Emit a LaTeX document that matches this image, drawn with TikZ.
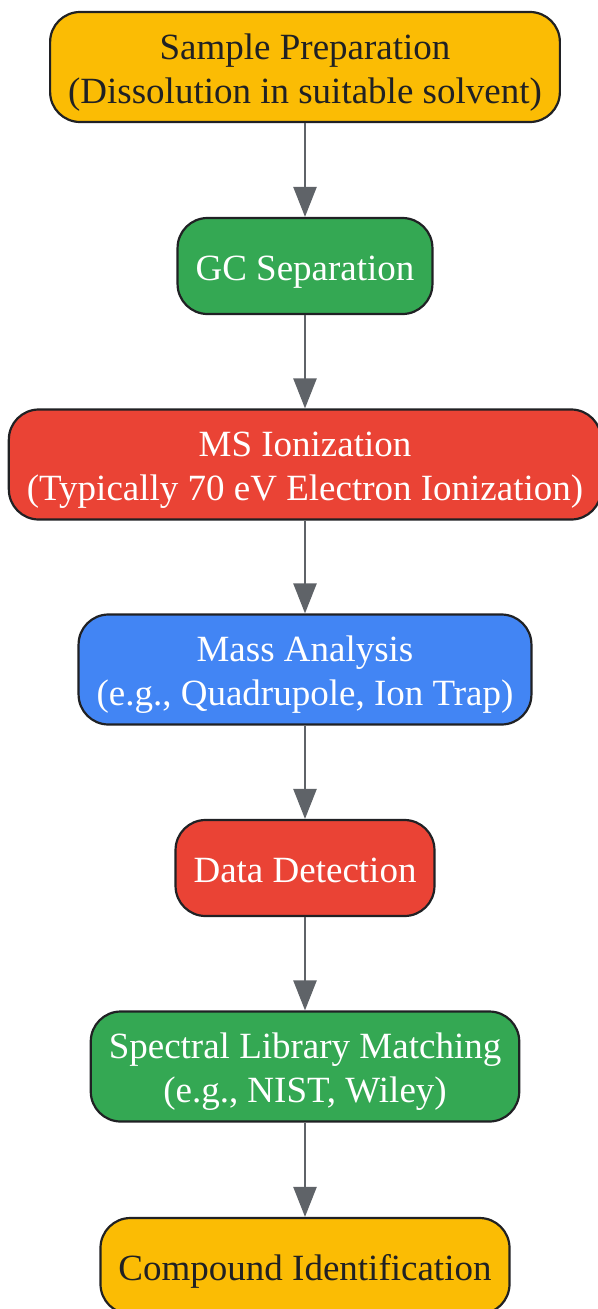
\documentclass[tikz,border=0pt]{standalone}
\usepackage{fontspec}
\setmainfont{Liberation Serif}
\usetikzlibrary{arrows.meta}
\definecolor{gyellow}{HTML}{FBBC04}
\definecolor{ggreen}{HTML}{34A853}
\definecolor{gred}{HTML}{EA4335}
\definecolor{gblue}{HTML}{4285F4}
\definecolor{gdark}{HTML}{202124}
\definecolor{garrow}{HTML}{5F6368}
\tikzset{%
    stage/.style={draw=gdark,line width=2.2pt,rounded corners=30pt,align=center,
        minimum height=96pt,inner xsep=18pt,inner ysep=9pt,
        font=\fontsize{37pt}{44pt}\selectfont,
        text height=38pt,text depth=10pt},
    twoline/.style={text height=82pt},
    light/.style={stage,text=white},
    flow/.style={-{Triangle[length=30pt,width=23pt]},draw=garrow,line width=2.5pt},
}

\begin{document}
\begin{tikzpicture}[x=1pt,y=-1pt]
            \useasboundingbox (0,0) rectangle (597,1309);

            %stopnje
            \node[stage,twoline,fill=gyellow,text=gdark] (prep) at (305,67) {Sample Preparation\\(Dissolution in suitable solvent)};
            \node[light,fill=ggreen] (gc) at (305,266) {GC Separation};
            \node[light,twoline,fill=gred] (ion) at (305,464.5) {MS Ionization\\(Typically 70 eV Electron Ionization)};
            \node[light,twoline,fill=gblue] (mass) at (305,669.5) {Mass Analysis\\(e.g., Quadrupole, Ion Trap)};
            \node[light,fill=gred] (det) at (305,868) {Data Detection};
            \node[light,twoline,fill=ggreen] (lib) at (305,1066.5) {Spectral Library Matching\\(e.g., NIST, Wiley)};
            \node[stage,fill=gyellow,text=gdark] (ident) at (305,1266) {Compound Identification};

            %puščice
            \draw[flow] (prep) -- (gc);
            \draw[flow] (gc) -- (ion);
            \draw[flow] (ion) -- (mass);
            \draw[flow] (mass) -- (det);
            \draw[flow] (det) -- (lib);
            \draw[flow] (lib) -- (ident);
        \end{tikzpicture}
\end{document}
